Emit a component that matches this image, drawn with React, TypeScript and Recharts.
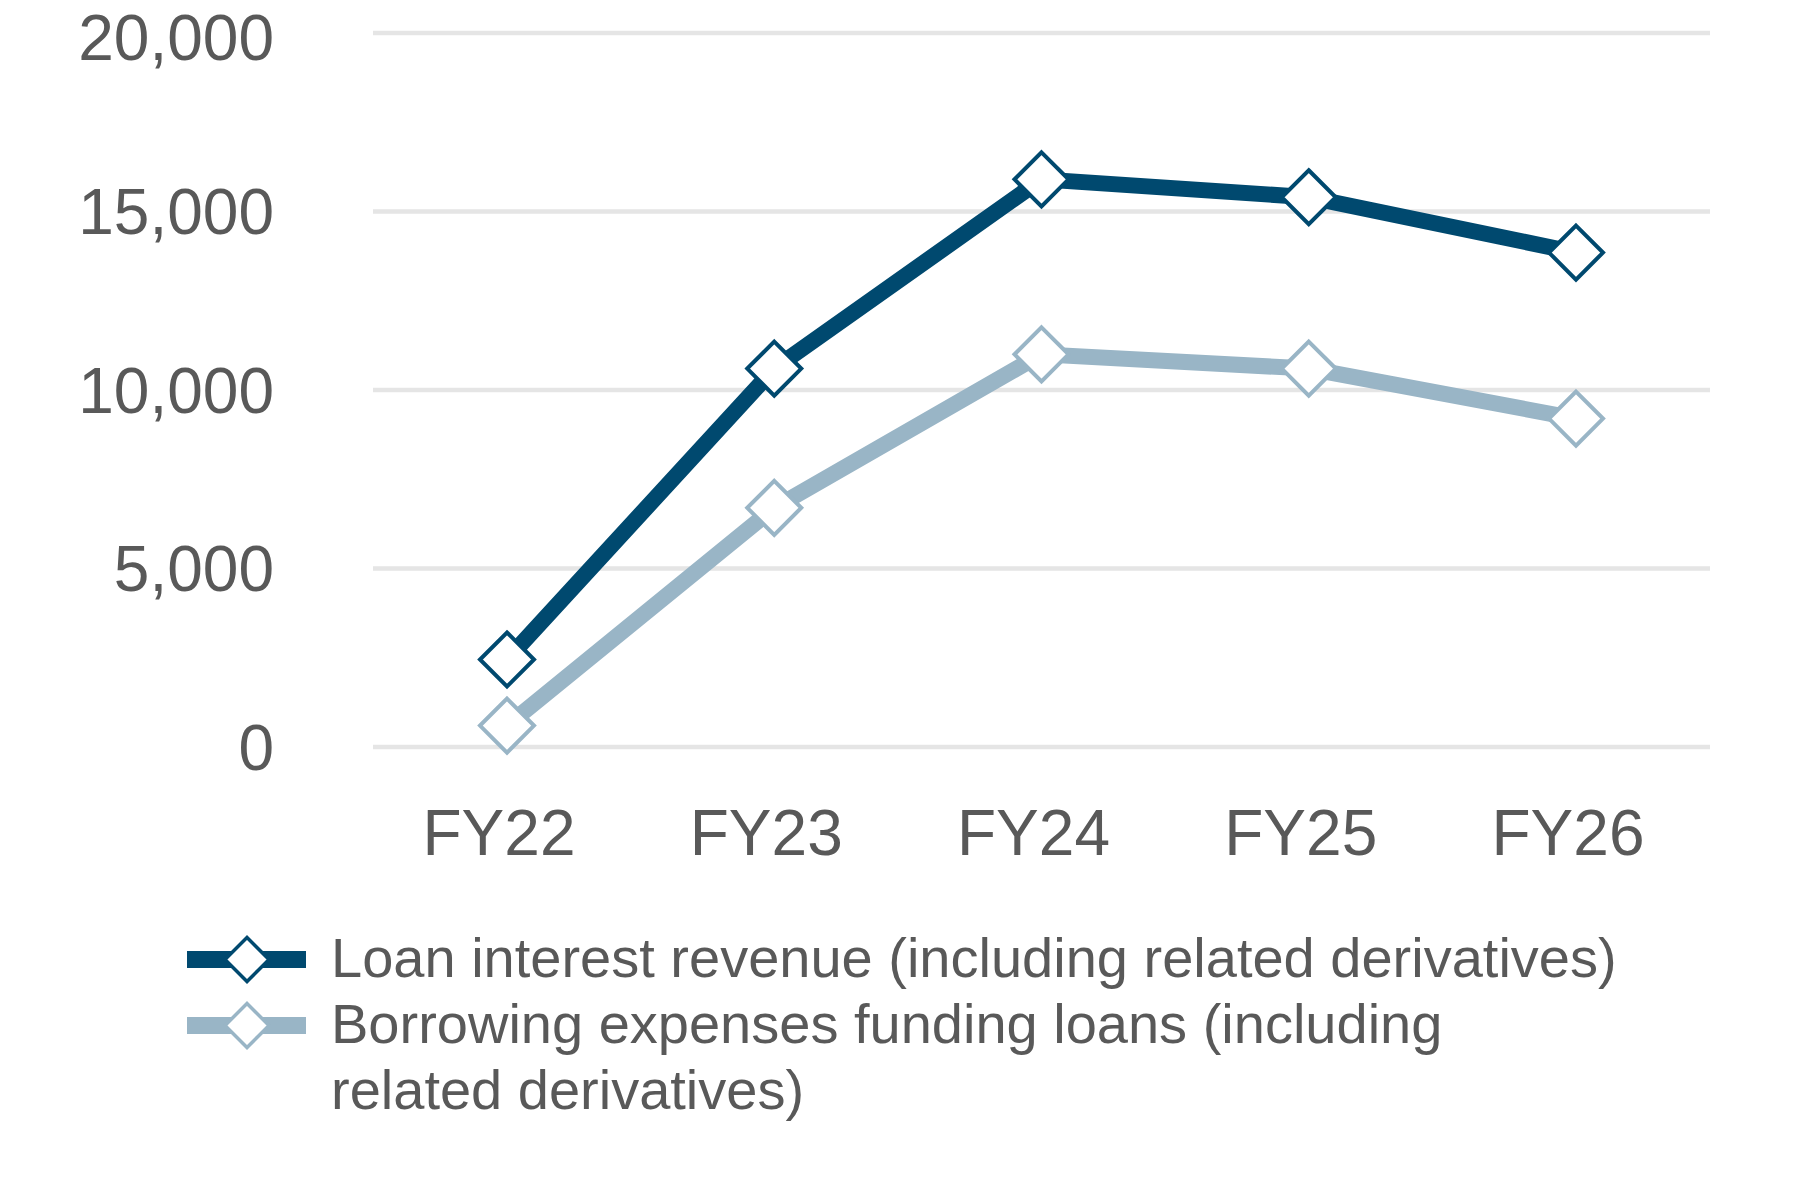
import { LineChart, Line, XAxis, YAxis, CartesianGrid, Legend } from 'recharts';

const YEARS = ['FY22', 'FY23', 'FY24', 'FY25', 'FY26'];
const LOAN_REVENUE = [2450, 10600, 15900, 15400, 13850];
const BORROWING_EXPENSES = [600, 6700, 11000, 10600, 9200];
const Y_TICKS = [0, 5000, 10000, 15000, 20000];

const SERIES = [
  { key: 'loan', name: 'Loan interest revenue (including related derivatives)', color: '#00496f' },
  { key: 'borrowing', name: 'Borrowing expenses funding loans (including\nrelated derivatives)', color: '#99b5c6' },
];

const TEXT = '#595959';
const FONT = '"Liberation Sans", Arial, sans-serif';

const data = YEARS.map((year, i) => ({
  year,
  loan: LOAN_REVENUE[i],
  borrowing: BORROWING_EXPENSES[i],
}));

function diamondDot(color: string) {
  return (props: any) => {
    const { cx, cy, index } = props;
    if (cx == null || cy == null) return null;
    const r = 27;
    return (
      <path
        key={`d-${color}-${index}`}
        d={`M${cx},${cy - r} L${cx + r},${cy} L${cx},${cy + r} L${cx - r},${cy} Z`}
        fill="#fff"
        stroke={color}
        strokeWidth={4}
      />
    );
  };
}

function YearTick({ x, y, payload }: any) {
  return (
    <text x={x - 8} y={y} dy="0.71em" textAnchor="middle" fill={TEXT} fontSize={64} fontFamily={FONT}>
      {payload.value}
    </text>
  );
}

function LegendContent() {
  return (
    <div style={{ fontFamily: FONT, fontSize: 56, lineHeight: '66px', color: TEXT }}>
      {SERIES.map((s) => (
        <div key={s.key} style={{ display: 'flex', alignItems: 'flex-start' }}>
          <svg width={119} height={66} style={{ flexShrink: 0, marginRight: 25 }}>
            <rect x={0} y={26} width={119} height={17} fill={s.color} />
            <path d="M60,12.5 L82,34.5 L60,56.5 L38,34.5 Z" fill="#fff" stroke={s.color} strokeWidth={3.5} />
          </svg>
          <span style={{ whiteSpace: 'pre-line' }}>{s.name}</span>
        </div>
      ))}
    </div>
  );
}

export default function App() {
  return (
    <div style={{ position: 'absolute', left: 0, top: 0, background: '#fff' }}>
      <LineChart width={1800} height={1194} data={data} margin={{ top: 33, right: 90, left: 0, bottom: 347 }}>
        <CartesianGrid vertical={false} stroke="#e5e5e5" strokeWidth={4.5} />
        <XAxis
          dataKey="year"
          axisLine={false}
          tickLine={false}
          tickSize={0}
          tickMargin={63}
          height={100}
          padding={{ left: 134, right: 134 }}
          tick={<YearTick />}
          interval={0}
        />
        <YAxis
          domain={[0, 20000]}
          ticks={Y_TICKS}
          width={373}
          axisLine={false}
          tickLine={false}
          tickSize={0}
          tickMargin={99}
          tickFormatter={(v: number) => v.toLocaleString('en-US')}
          tick={{ fill: TEXT, fontSize: 64, fontFamily: FONT }}
        />
        <Legend
          layout="horizontal"
          verticalAlign="middle"
          align="center"
          content={<LegendContent />}
          wrapperStyle={{ top: 925, left: 187, width: 1500 }}
        />
        {SERIES.map((s) => (
          <Line
            key={s.key}
            type="linear"
            dataKey={s.key}
            name={s.name}
            stroke={s.color}
            strokeWidth={16}
            dot={diamondDot(s.color)}
            activeDot={false}
            isAnimationActive={false}
          />
        ))}
      </LineChart>
    </div>
  );
}
